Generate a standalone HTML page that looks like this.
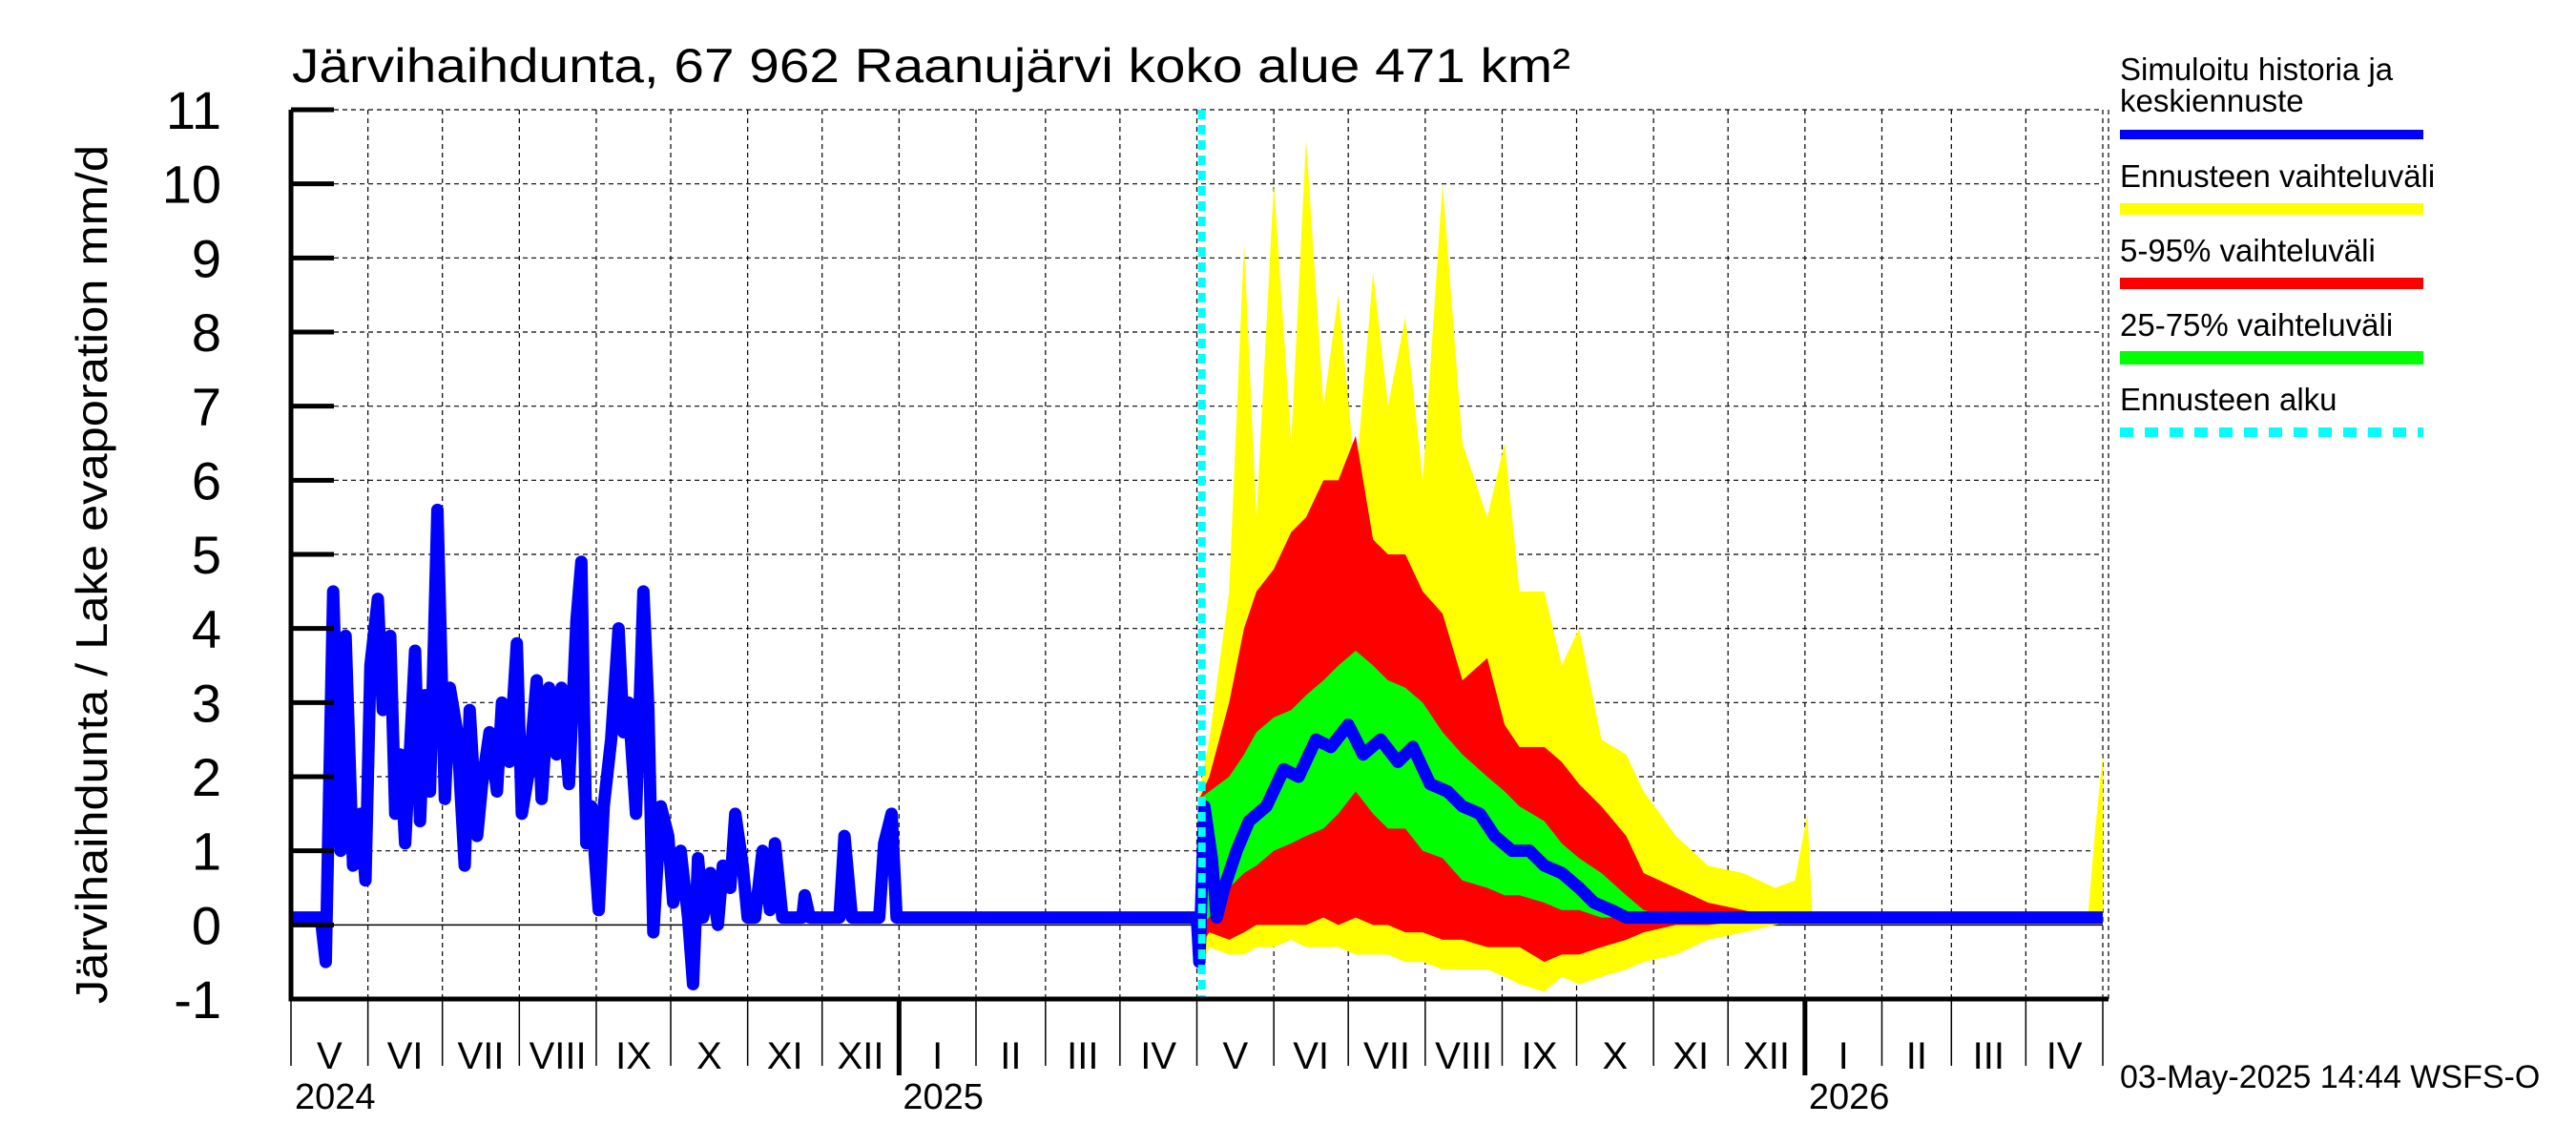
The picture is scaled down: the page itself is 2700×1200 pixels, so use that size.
<!DOCTYPE html>
<html><head><meta charset="utf-8"><style>
html,body{margin:0;padding:0;background:#fff;}
svg{display:block;font-family:"Liberation Sans",sans-serif;}
</style></head><body>
<svg id="chart" width="2700" height="1200" viewBox="0 0 2700 1200" xmlns="http://www.w3.org/2000/svg">
<text x="306" y="86" font-size="50" textLength="1340" lengthAdjust="spacingAndGlyphs">Järvihaihdunta, 67 962 Raanujärvi koko alue 471 km²</text>
<text transform="translate(112,602) rotate(-90)" text-anchor="middle" font-size="46" textLength="900" lengthAdjust="spacingAndGlyphs">Järvihaihdunta / Lake evaporation   mm/d</text>
<g id="grid"></g>
<g id="bands"></g>
<g id="series"></g>
<g id="axes"></g>
<g font-size="33">
<text x="2222" y="84">Simuloitu historia ja</text>
<text x="2222" y="117">keskiennuste</text>
<rect x="2222" y="136" width="318" height="10" fill="#0000ff"/>
<text x="2222" y="196">Ennusteen vaihteluväli</text>
<rect x="2222" y="213" width="318" height="12" fill="#ffff00"/>
<text x="2222" y="274">5-95% vaihteluväli</text>
<rect x="2222" y="291" width="318" height="12" fill="#ff0000"/>
<text x="2222" y="352">25-75% vaihteluväli</text>
<rect x="2222" y="368" width="318" height="14" fill="#00ff00"/>
<text x="2222" y="430">Ennusteen alku</text>
<line x1="2222" y1="453" x2="2540" y2="453" stroke="#00ffff" stroke-width="10" stroke-dasharray="14,12"/>
</g>
<text x="2222" y="1140" font-size="34">03-May-2025 14:44 WSFS-O</text>
</svg>
<script>
const yTicks=[-1,0,1,2,3,4,5,6,7,8,9,10,11];
const monthLabels=["V","VI","VII","VIII","IX","X","XI","XII","I","II","III","IV","V","VI","VII","VIII","IX","X","XI","XII","I","II","III","IV"];
const monthStartDays=[0,31,61,92,123,153,184,214,245,276,304,334,365,396,426,457,488,518,549,579,610,641,669,699,730];
const yearLabels=["2024","2025","2026"];
const yearStartDays=[0,245,610];
const forecastStartDay=367;
const histDays=[0,12,14,17,20,22,25,28,30,32,35,37,40,42,44,46,48,50,52,54,56,59,62,64,67,70,72,75,77,80,83,85,88,91,93,96,99,101,104,107,109,112,115,117,119,121,124,126,129,132,134,136,139,142,144,146,149,152,154,157,160,162,164,166,169,172,174,177,179,182,184,187,190,193,195,198,206,207,209,221,223,226,237,239,242,244,365];
const histVals=[0.1,0.1,-0.5,4.5,1.0,3.9,0.8,1.5,0.6,3.5,4.4,2.9,3.9,1.5,2.3,1.1,2.4,3.7,1.4,3.1,1.8,5.6,1.7,3.2,2.6,0.8,2.9,1.2,1.9,2.6,1.8,3.0,2.2,3.8,1.5,2.1,3.3,1.7,3.2,2.3,3.2,1.9,4.1,4.9,1.1,1.6,0.2,1.6,2.5,4.0,2.6,3.0,1.5,4.5,2.9,-0.1,1.6,1.2,0.3,1.0,0.1,-0.8,0.9,0.1,0.7,0.0,0.8,0.5,1.5,0.8,0.1,0.1,1.0,0.2,1.1,0.1,0.1,0.4,0.1,0.1,1.2,0.1,0.1,1.1,1.5,0.1,0.1];
const medDays=[365,366,368,371,373,376,381,386,393,400,406,413,419,426,432,439,446,452,459,466,472,479,485,492,499,505,512,519,525,532,538,730];
const medVals=[0.1,-0.5,1.6,0.9,0.1,0.5,1.0,1.4,1.6,2.1,2.0,2.5,2.4,2.7,2.3,2.5,2.2,2.4,1.9,1.8,1.6,1.5,1.2,1.0,1.0,0.8,0.7,0.5,0.3,0.2,0.1,0.1];
const bandDays=[366,370,378,384,389,396,403,409,416,422,429,436,442,449,456,464,472,482,489,495,505,512,519,528,538,545,558,571,585,598,606,611,613,724,727,730];
const yMax=[1.8,2.5,4.5,9.2,5.5,10.0,6.5,10.6,7.0,8.5,6.0,8.8,7.0,8.2,6.0,10.0,6.5,5.5,6.5,4.5,4.5,3.5,4.0,2.5,2.3,1.8,1.2,0.8,0.7,0.5,0.6,1.5,0.1,0.1,1.3,2.3];
const yMin=[-0.6,-0.3,-0.4,-0.4,-0.3,-0.3,-0.2,-0.3,-0.3,-0.3,-0.4,-0.4,-0.4,-0.5,-0.5,-0.6,-0.6,-0.6,-0.7,-0.8,-0.9,-0.7,-0.8,-0.7,-0.6,-0.5,-0.4,-0.2,-0.1,0.0,0.05,0.05,0.05,0.05,0.05,0.05];
const p95=[1.7,2.0,3.0,4.0,4.5,4.8,5.3,5.5,6.0,6.0,6.6,5.2,5.0,5.0,4.5,4.2,3.3,3.6,2.7,2.4,2.4,2.2,1.9,1.6,1.2,0.7,0.5,0.3,0.2,0.1,0.1,0.1,0.1,0.1,0.1,0.1];
const p5=[-0.3,-0.1,-0.2,-0.1,0.0,0.0,0.0,0.0,0.1,0.0,0.1,0.0,0.0,-0.1,-0.1,-0.2,-0.2,-0.3,-0.3,-0.3,-0.5,-0.4,-0.4,-0.3,-0.2,-0.1,0.0,0.0,0.05,0.05,0.05,0.05,0.05,0.05,0.05,0.05];
const p75=[1.7,1.8,2.0,2.3,2.6,2.8,2.9,3.1,3.3,3.5,3.7,3.5,3.3,3.2,3.0,2.6,2.3,2.0,1.8,1.6,1.4,1.1,0.9,0.7,0.4,0.2,0.1,0.1,0.1,0.1,0.1,0.1,0.1,0.1,0.1,0.1];
const p25=[0.0,0.1,0.5,0.7,0.8,1.0,1.1,1.2,1.3,1.5,1.8,1.5,1.3,1.3,1.0,0.9,0.6,0.5,0.4,0.4,0.3,0.2,0.2,0.1,0.1,0.1,0.1,0.1,0.1,0.1,0.1,0.1,0.1,0.1,0.1,0.1];

const NS="http://www.w3.org/2000/svg";
const L=305,R=2204,T=115,B=1047,D0=0,D1=730,YMIN=-1,YMAX=11;
function xS(d){return L+(d-D0)/(D1-D0)*(R-L);}
function yS(v){return B-(v-YMIN)/(YMAX-YMIN)*(B-T);}
function mk(tag,attrs,parent){const e=document.createElementNS(NS,tag);for(const k in attrs)e.setAttribute(k,attrs[k]);parent.appendChild(e);return e;}
const grid=document.getElementById('grid'),bands=document.getElementById('bands'),series=document.getElementById('series'),axes=document.getElementById('axes');

yTicks.forEach(v=>{
  const g=mk('line',{x1:L,x2:R,y1:yS(v),y2:yS(v),stroke:'#000','stroke-width':v===0?1.5:1.2,'stroke-dasharray':v===0?'none':'5,4'},grid);
  
  
  const t=mk('line',{x1:L,x2:L+45,y1:yS(v),y2:yS(v),stroke:'#000','stroke-width':5},axes);
  
  
  const lb=mk('text',{x:232,y:yS(v)+20,'text-anchor':'end','font-size':56},axes);
  lb.textContent=v;
  
  
});
monthStartDays.forEach((d,i)=>{
  if(i>0){
    const g=mk('line',{x1:xS(d),x2:xS(d),y1:T,y2:B,stroke:'#000','stroke-width':1.2,'stroke-dasharray':'5,4'},grid);
    
    
  }
  const isYear=yearStartDays.indexOf(d)>0;
  const tk=mk('line',{x1:xS(d),x2:xS(d),y1:B,y2:isYear?1127:1117,stroke:'#000','stroke-width':isYear?5:1.5},axes);
  
  
  if(i<monthLabels.length){
    const lb=mk('text',{x:(xS(d)+xS(monthStartDays[i+1]))/2,y:1120,'text-anchor':'middle','font-size':40},axes);
    lb.textContent=monthLabels[i];
    
    
  }
});
mk('line',{x1:R+6,x2:R+6,y1:T,y2:B,stroke:'#000','stroke-width':1.2,'stroke-dasharray':'5,4'},grid);
yearLabels.forEach((y,i)=>{
  const lb=mk('text',{x:xS(yearStartDays[i])+4,y:1162,'font-size':38},axes);
  lb.textContent=y;
  
  
});
function band(up,lo,color,name){
  let pts=bandDays.map((d,i)=>xS(d)+','+yS(up[i]));
  for(let i=bandDays.length-1;i>=0;i--)pts.push(xS(bandDays[i])+','+yS(lo[i]));
  const p=mk('polygon',{points:pts.join(' '),fill:color},bands);
  
  
}
band(yMax,yMin,'#ffff00','band-min-max');
band(p95,p5,'#ff0000','band-5-95');
band(p75,p25,'#00ff00','band-25-75');
const h=mk('polyline',{points:histDays.map((d,i)=>xS(d)+','+yS(histVals[i])).join(' '),fill:'none',stroke:'#0000ff','stroke-width':13,'stroke-linejoin':'round'},series);


const m=mk('polyline',{points:medDays.map((d,i)=>xS(d)+','+yS(medVals[i])).join(' '),fill:'none',stroke:'#0000ff','stroke-width':13,'stroke-linejoin':'round'},series);


const fs=mk('line',{x1:xS(forecastStartDay),x2:xS(forecastStartDay),y1:T,y2:B,stroke:'#00ffff','stroke-width':8,'stroke-dasharray':'10,6'},series);


const ax=mk('path',{d:`M${L},${T} L${L},${B} L${R+6},${B}`,fill:'none',stroke:'#000','stroke-width':5},axes);


</script>
</body></html>
